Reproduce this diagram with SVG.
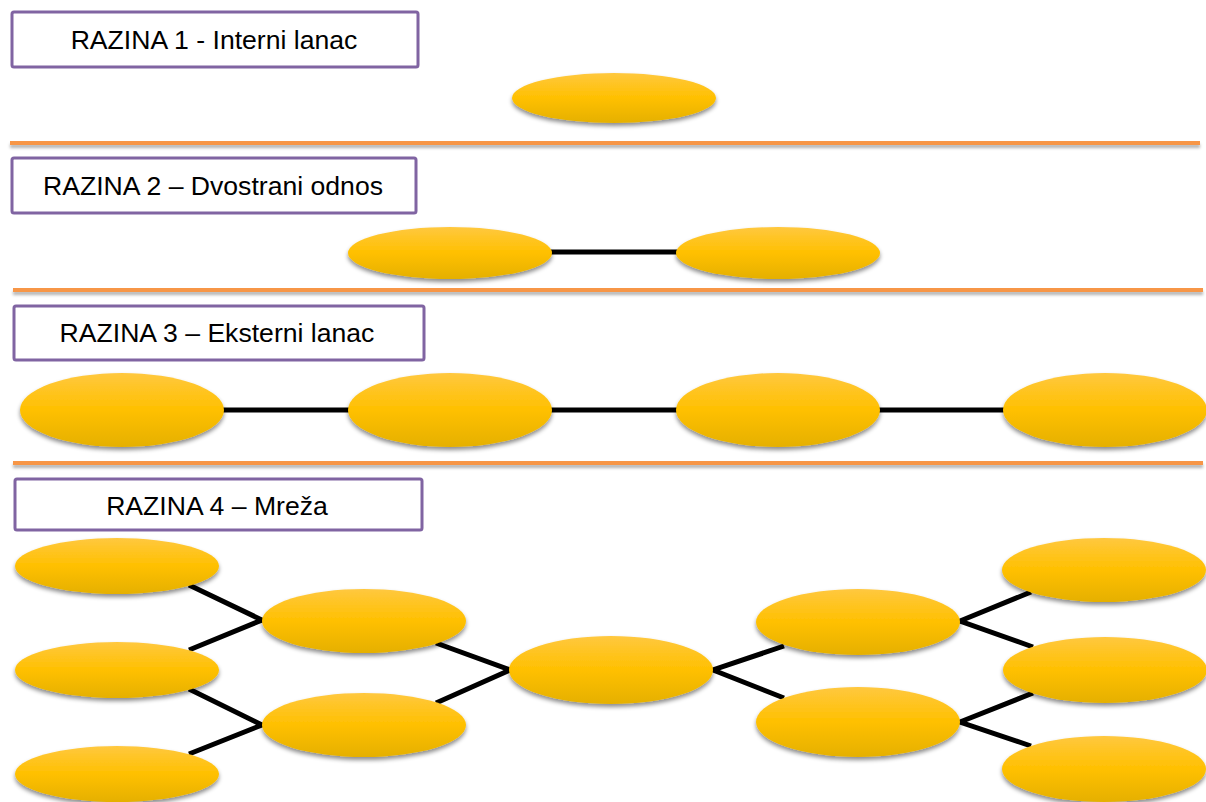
<svg xmlns="http://www.w3.org/2000/svg" width="1206" height="802" viewBox="0 0 1206 802">
<defs>
<linearGradient id="gold" x1="0" y1="0" x2="0" y2="1">
<stop offset="0" stop-color="#FFC83F"/>
<stop offset="0.5" stop-color="#FFC000"/>
<stop offset="1" stop-color="#E5B000"/>
</linearGradient>
<filter id="sh" x="-10%" y="-20%" width="120%" height="150%">
<feGaussianBlur in="SourceAlpha" stdDeviation="2"/>
<feOffset dx="0" dy="3" result="b"/>
<feFlood flood-color="#000" flood-opacity="0.45"/>
<feComposite in2="b" operator="in"/>
<feMerge><feMergeNode/><feMergeNode in="SourceGraphic"/></feMerge>
</filter>
<filter id="lsh" filterUnits="userSpaceOnUse" x="0" y="0" width="1206" height="802">
<feGaussianBlur in="SourceAlpha" stdDeviation="1.5"/>
<feOffset dx="0" dy="3" result="b"/>
<feFlood flood-color="#000" flood-opacity="0.3"/>
<feComposite in2="b" operator="in"/>
<feMerge><feMergeNode/><feMergeNode in="SourceGraphic"/></feMerge>
</filter>
</defs>
<style>
.box{fill:#fff;stroke:#8064A2;stroke-width:3}
.lbl{font-family:"Liberation Sans",Arial,sans-serif;font-size:26.6px;fill:#000;text-anchor:middle}
.node{fill:url(#gold);filter:url(#sh)}
.sep{fill:#F79646;filter:url(#lsh)}
.con{stroke:#000;stroke-width:5;fill:none}
</style>
<rect width="1206" height="802" fill="#fff"/>
<g id="separators">
<rect class="sep" x="10" y="141" width="1190" height="4"/>
<rect class="sep" x="13" y="288" width="1190" height="4"/>
<rect class="sep" x="13" y="461" width="1190" height="4"/>
</g>
<g id="label1"><rect class="box" x="12" y="12" width="406" height="55" rx="2"/><text class="lbl" x="214" y="49">RAZINA 1 - Interni lanac</text></g>
<g id="label2"><rect class="box" x="12" y="158" width="404" height="55" rx="2"/><text class="lbl" x="213" y="195">RAZINA 2 – Dvostrani odnos</text></g>
<g id="label3"><rect class="box" x="14" y="306" width="410" height="54" rx="2"/><text class="lbl" x="217" y="342">RAZINA 3 – Eksterni lanac</text></g>
<g id="label4"><rect class="box" x="15" y="479" width="407" height="51" rx="2"/><text class="lbl" x="217" y="515">RAZINA 4 – Mreža</text></g>
<g id="connectors">
<line class="con" x1="550" y1="252" x2="678" y2="252"/>
<line class="con" x1="222" y1="410" x2="350" y2="410"/>
<line class="con" x1="550" y1="410" x2="678" y2="410"/>
<line class="con" x1="878" y1="410" x2="1006" y2="410"/>
<polyline class="con" points="189,585 262,620 189,650"/>
<polyline class="con" points="189,689 262,725 189,754"/>
<polyline class="con" points="436,643 510,670 436,703"/>
<polyline class="con" points="784,646 713,670 784,698"/>
<polyline class="con" points="1031,592 960,621 1033,647"/>
<polyline class="con" points="1033,693 960,722 1031,746"/>
</g>
<g id="n1"><ellipse class="node" cx="614" cy="98" rx="102" ry="25"/></g>
<g id="n2a"><ellipse class="node" cx="450" cy="253" rx="102" ry="26"/></g>
<g id="n2b"><ellipse class="node" cx="778" cy="253" rx="102" ry="26"/></g>
<g id="n3a"><ellipse class="node" cx="122" cy="410" rx="102" ry="37"/></g>
<g id="n3b"><ellipse class="node" cx="450" cy="410" rx="102" ry="37"/></g>
<g id="n3c"><ellipse class="node" cx="778" cy="410" rx="102" ry="37"/></g>
<g id="n3d"><ellipse class="node" cx="1105" cy="410" rx="102" ry="37"/></g>
<g id="n4a"><ellipse class="node" cx="117" cy="566" rx="102" ry="28"/></g>
<g id="n4b"><ellipse class="node" cx="117" cy="670" rx="102" ry="28"/></g>
<g id="n4c"><ellipse class="node" cx="117" cy="774" rx="102" ry="28"/></g>
<g id="n4d"><ellipse class="node" cx="364" cy="621" rx="102" ry="32"/></g>
<g id="n4e"><ellipse class="node" cx="364" cy="725" rx="102" ry="32"/></g>
<g id="n4f"><ellipse class="node" cx="611" cy="670" rx="102" ry="34"/></g>
<g id="n4g"><ellipse class="node" cx="858" cy="622" rx="102" ry="33"/></g>
<g id="n4h"><ellipse class="node" cx="858" cy="722" rx="102" ry="35"/></g>
<g id="n4i"><ellipse class="node" cx="1104" cy="570" rx="102" ry="32"/></g>
<g id="n4j"><ellipse class="node" cx="1105" cy="670" rx="102" ry="33"/></g>
<g id="n4k"><ellipse class="node" cx="1104" cy="769" rx="102" ry="33"/></g>
</svg>
